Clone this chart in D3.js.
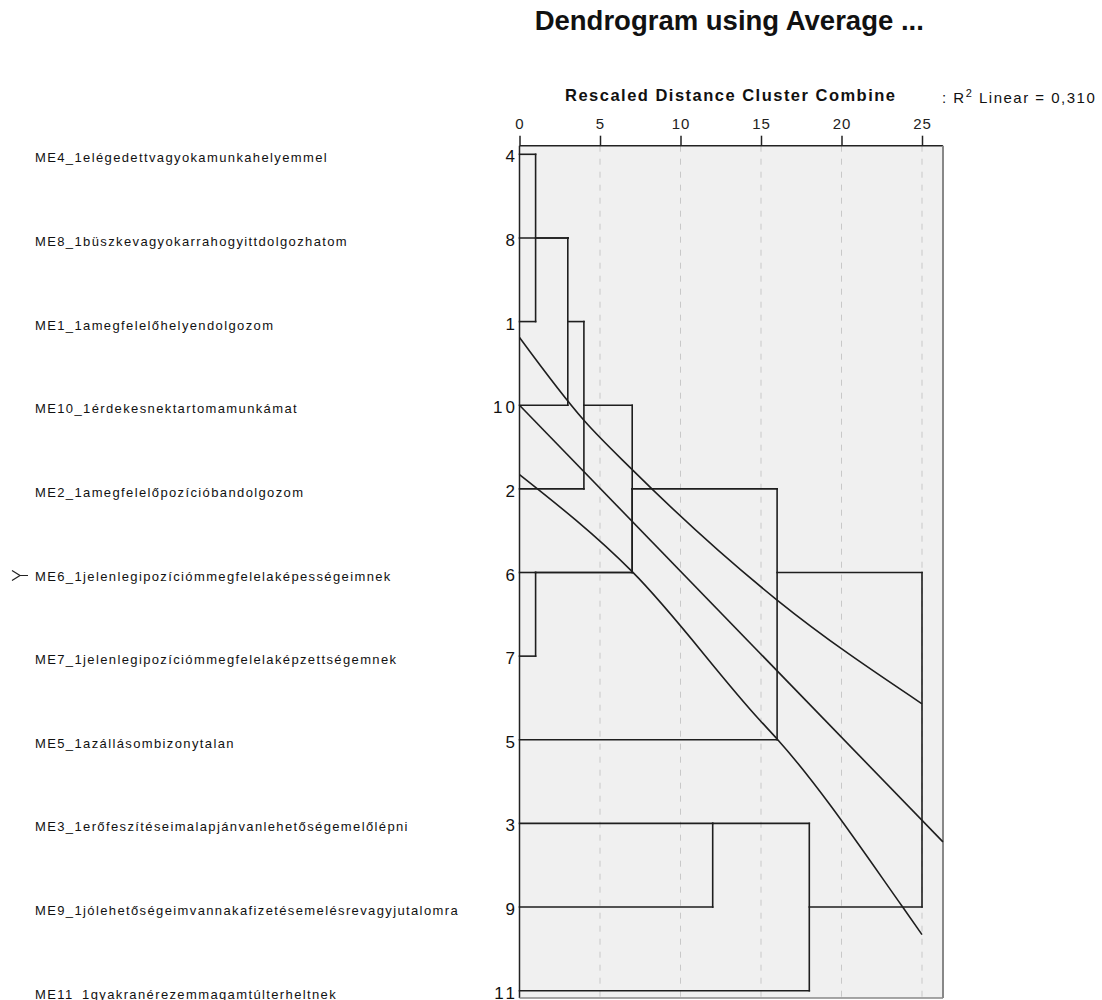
<!DOCTYPE html>
<html>
<head>
<meta charset="utf-8">
<script src="https://cdn.jsdelivr.net/npm/d3@7"></script>
<style>
  body { margin: 0; background: #fff; }
  svg { display: block; }
</style>
</head>
<body>
<svg id="chart" width="1102" height="1000"></svg>
<script>
// ---------- DATA ----------
const leafIds = [4, 8, 1, 10, 2, 6, 7, 5, 3, 9, 11];
const leafLabels = [
  "ME4_1elégedettvagyokamunkahelyemmel",
  "ME8_1büszkevagyokarrahogyittdolgozhatom",
  "ME1_1amegfelelőhelyendolgozom",
  "ME10_1érdekesnektartomamunkámat",
  "ME2_1amegfelelőpozícióbandolgozom",
  "ME6_1jelenlegipozíciómmegfelelaképességeimnek",
  "ME7_1jelenlegipozíciómmegfelelaképzettségemnek",
  "ME5_1azállásombizonytalan",
  "ME3_1erőfeszítéseimalapjánvanlehetőségemelőlépni",
  "ME9_1jólehetőségeimvannakafizetésemelésrevagyjutalomra",
  "ME11_1gyakranérezemmagamtúlterheltnek"
];
// merges: children are leaf ids ("L4") or merge ids ("M0"...), height in rescaled distance
const mergeLeft   = ["L4", "L6", "M0", "M2",  "M3", "M4", "M1", "M5", "L3", "M8",  "M7"];
const mergeRight  = ["L1", "L7", "L8", "L10", "L2", "M1", "M5", "L5", "L9", "L11", "M9"];
const mergeHeight = [1,    1,    3,    3,     4,    7,    7,    16,   12,   18,    25];
// axis ticks
const xTicks = [0, 5, 10, 15, 20, 25];
// fitted linear line and 95% band, read as (distance, leaf position)
const fitLine   = [[0, 3.00], [26.3, 8.22]];
const upperBand = [[0, 2.19], [4.0, 3.18], [7.0, 3.77], [16.0, 5.33], [25.0, 6.57]];
const lowerBand = [[0, 3.83], [7.0, 4.99], [14.9, 6.76], [16.0, 6.99], [23.8, 9.00], [25.0, 9.33]];
const titleText = "Dendrogram using Average ...";
const axisTitle = "Rescaled Distance Cluster Combine";
const r2Text = "0,310";

// ---------- LAYOUT ----------
const svg = d3.select("#chart");
const font = "'Liberation Sans', Arial, sans-serif";
const plot = { left: 519.5, right: 943, top: 145.7, bottom: 998 };
const x = d3.scaleLinear().domain([0, 25]).range([519.5, 922]);
const y = d3.scaleLinear().domain([0, 10]).range([154.3, 990.7]);

// background
svg.append("rect")
  .attr("x", plot.left).attr("y", plot.top)
  .attr("width", plot.right - plot.left).attr("height", plot.bottom - plot.top)
  .attr("fill", "#f0f0f0");

// grid
svg.append("g").selectAll("line").data(xTicks.filter(t => t > 0)).join("line")
  .attr("x1", d => x(d)).attr("x2", d => x(d))
  .attr("y1", plot.top).attr("y2", plot.bottom)
  .attr("stroke", "#c8c8c8").attr("stroke-width", 1).attr("stroke-dasharray", "6,7");

// top axis
const axis = d3.axisTop(x).tickValues(xTicks).tickSize(10).tickPadding(7).tickFormat(d3.format("d"));
const gAxis = svg.append("g").attr("transform", `translate(0,${plot.top})`).call(axis);
gAxis.select(".domain").attr("stroke", "#222").attr("stroke-width", 1.5)
  .attr("d", `M${plot.left},0H${plot.right}`);
gAxis.selectAll(".tick line").attr("stroke", "#222").attr("stroke-width", 1.5);
gAxis.selectAll(".tick text").attr("font-family", font).attr("font-size", 15)
  .attr("letter-spacing", 1).attr("fill", "#222");

// plot frame (left, right, bottom)
svg.append("line").attr("x1", plot.left).attr("x2", plot.left).attr("y1", plot.top).attr("y2", plot.bottom)
  .attr("stroke", "#222").attr("stroke-width", 1.5);
svg.append("line").attr("x1", plot.right).attr("x2", plot.right).attr("y1", plot.top).attr("y2", plot.bottom)
  .attr("stroke", "#888").attr("stroke-width", 2);
svg.append("line").attr("x1", plot.left).attr("x2", plot.right).attr("y1", plot.bottom).attr("y2", plot.bottom)
  .attr("stroke", "#888").attr("stroke-width", 1.5);

// ---------- DENDROGRAM ----------
const nodes = {};
leafIds.forEach((id, i) => { nodes["L" + id] = { pos: i, h: 0 }; });
const segs = [];
mergeLeft.forEach((l, k) => {
  const a = nodes[l], b = nodes[mergeRight[k]], h = mergeHeight[k];
  segs.push([a.h, a.pos, h, a.pos]);
  segs.push([b.h, b.pos, h, b.pos]);
  segs.push([h, a.pos, h, b.pos]);
  nodes["M" + k] = { pos: Math.floor((a.pos + b.pos) / 2), h: h };
});
svg.append("g").selectAll("line").data(segs).join("line")
  .attr("x1", d => x(d[0])).attr("y1", d => y(d[1]))
  .attr("x2", d => x(d[2])).attr("y2", d => y(d[3]))
  .attr("stroke", "#1e1e1e").attr("stroke-width", 1.6).attr("stroke-linecap", "square");

// ---------- FIT LINES ----------
const lineGen = d3.line().x(d => x(d[0])).y(d => y(d[1])).curve(d3.curveMonotoneX);
[fitLine, upperBand, lowerBand].forEach(s => {
  svg.append("path").attr("d", lineGen(s)).attr("fill", "none")
    .attr("stroke", "#1e1e1e").attr("stroke-width", 1.6);
});

// ---------- LABELS ----------
const gLab = svg.append("g").attr("font-family", font).attr("fill", "#111");
const labels = gLab.selectAll("text.lab").data(leafLabels).join("text")
  .attr("class", "lab")
  .attr("x", 35).attr("y", (d, i) => y(i) + 8)
  .attr("font-size", 13)
  .text(d => d);
const longest = labels.nodes()[9];
const natural = longest.getComputedTextLength();
const spacing = (424 - natural) / leafLabels[9].length;
labels.attr("letter-spacing", spacing);

gLab.selectAll("text.num").data(leafIds).join("text")
  .attr("class", "num")
  .attr("x", 518).attr("y", (d, i) => y(i) + 8)
  .attr("text-anchor", "end").attr("font-size", 17).attr("letter-spacing", 3)
  .text(d => d);

// selection marker at ME6 row
const yi = y(5) + 3;
svg.append("path")
  .attr("d", `M12,${yi - 5}L20,${yi}L12,${yi + 5}M20,${yi}H28`)
  .attr("fill", "none").attr("stroke", "#222").attr("stroke-width", 1.2);

// titles
svg.append("text").attr("x", (plot.left + plot.right) / 2 - 2).attr("y", 30)
  .attr("text-anchor", "middle").attr("font-family", font).attr("font-weight", "bold")
  .attr("font-size", 27.5).attr("fill", "#111").text(titleText);
svg.append("text").attr("x", 565).attr("y", 101)
  .attr("font-family", font).attr("font-weight", "bold")
  .attr("font-size", 16.5).attr("textLength", 330).attr("lengthAdjust", "spacing")
  .attr("fill", "#111").text(axisTitle);
const r2 = svg.append("text").attr("x", 942).attr("y", 103)
  .attr("font-family", font).attr("font-size", 15).attr("letter-spacing", 1.5).attr("fill", "#111");
r2.append("tspan").text(": R");
r2.append("tspan").attr("font-size", 11).attr("dy", -6).text("2");
r2.append("tspan").attr("dy", 6).text(" Linear = " + r2Text);
</script>
</body>
</html>
